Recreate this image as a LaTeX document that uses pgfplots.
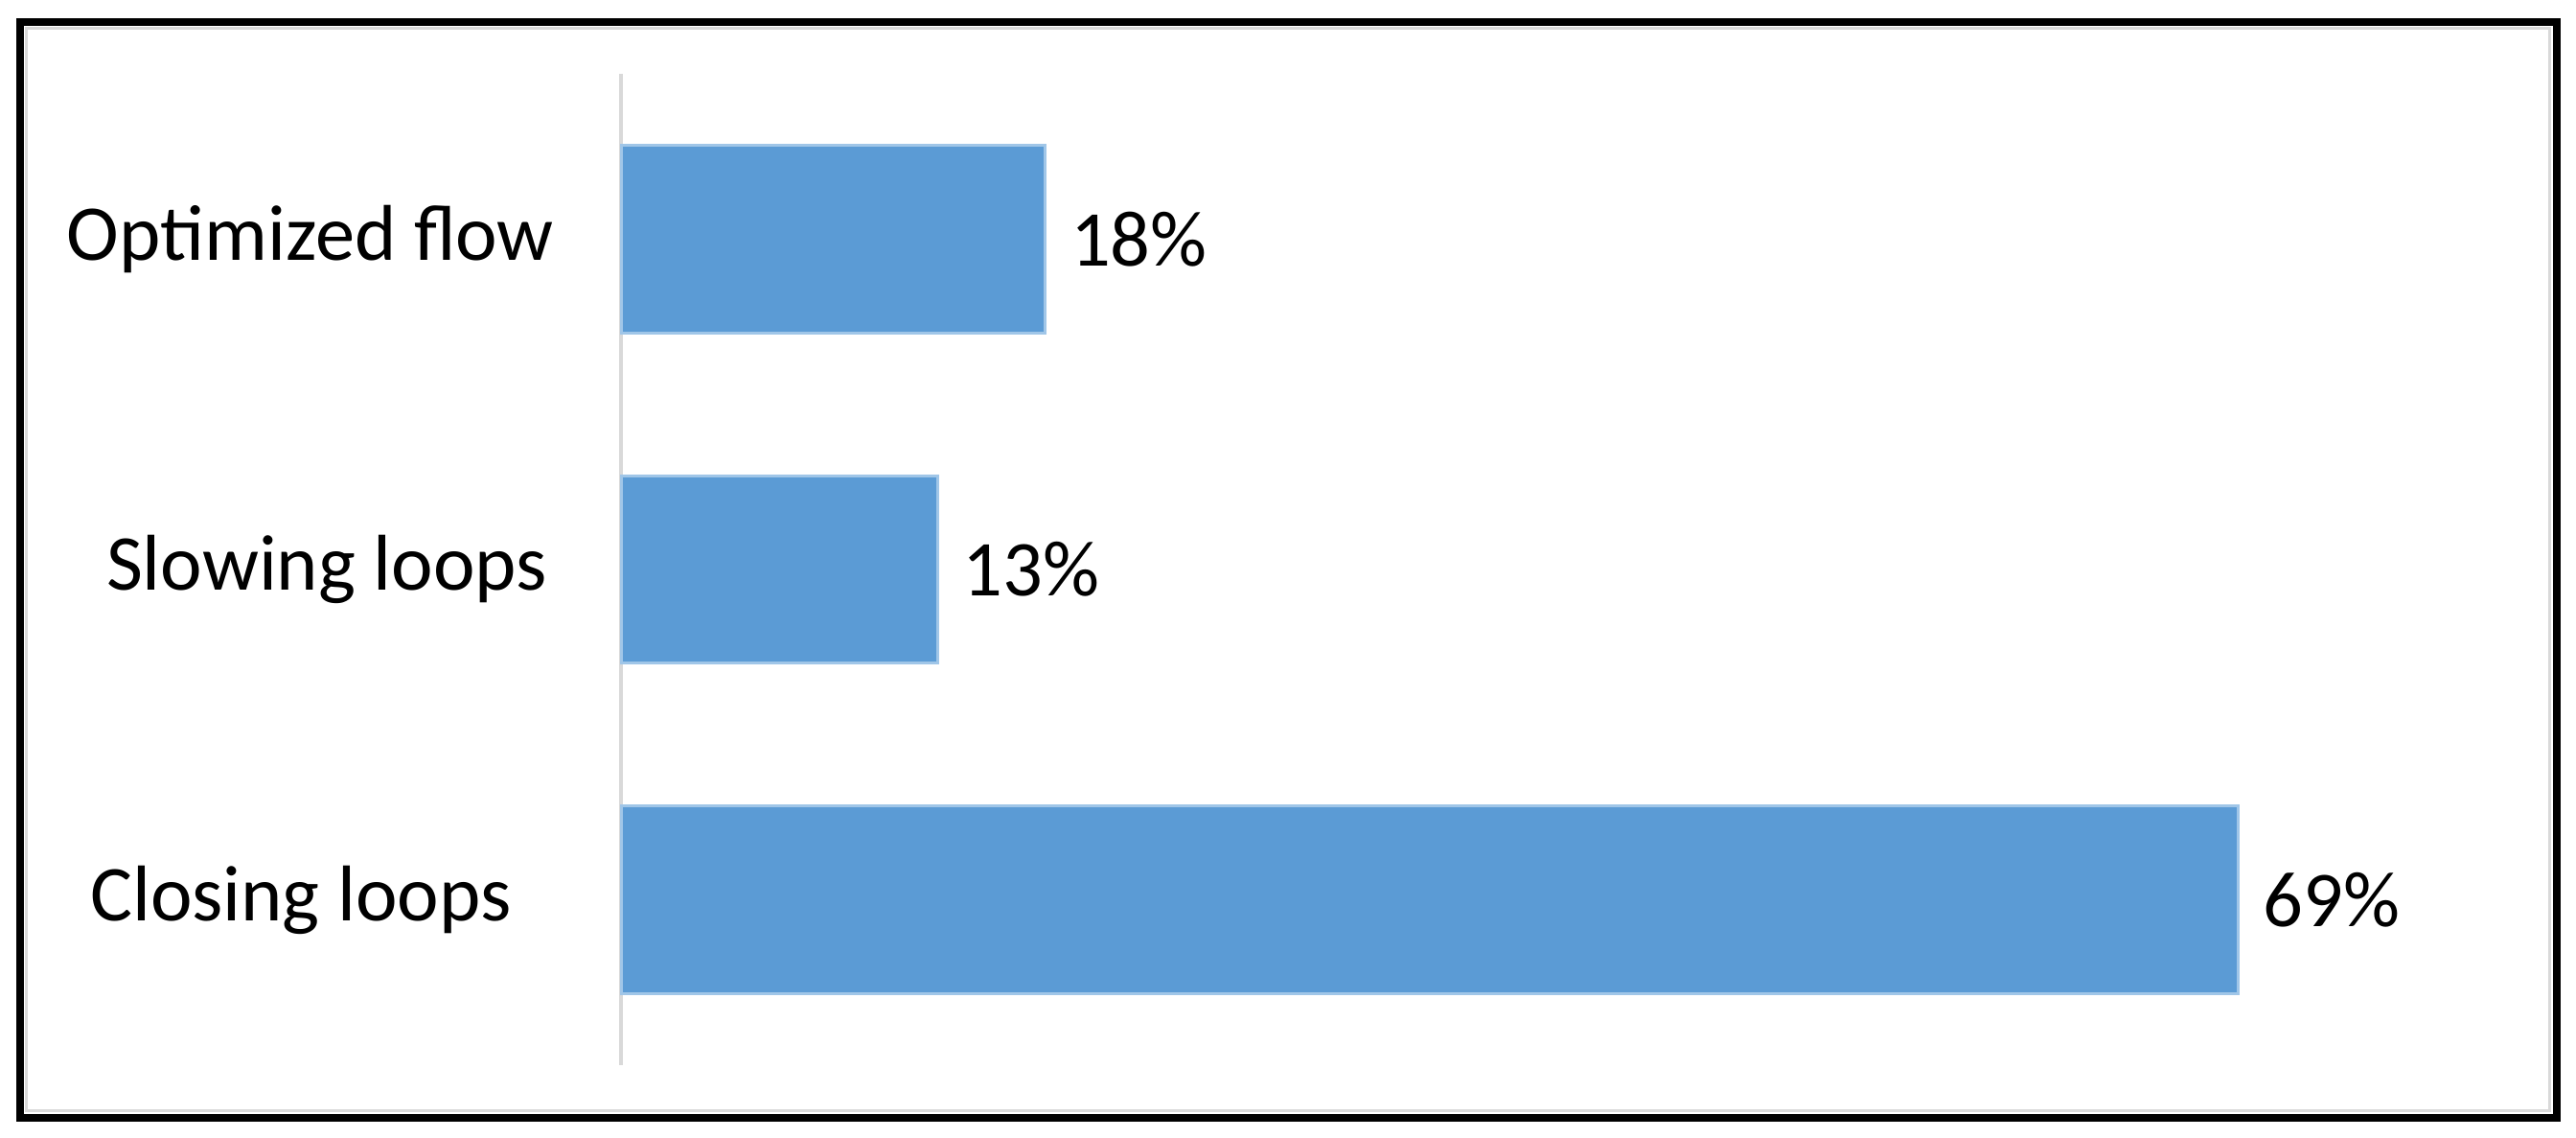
\documentclass[border=0pt]{standalone}
\usepackage{pgfplots}
\pgfplotsset{compat=1.18}
\usepackage{fontspec}
\setmainfont{Carlito}
\definecolor{barblue}{RGB}{91,155,213}
\definecolor{baredge}{RGB}{160,198,232}
\definecolor{axgray}{RGB}{217,217,217}
\begin{document}
\fontsize{16.5}{20}\selectfont
\begin{tikzpicture}
\path[use as bounding box] (0,0) rectangle (537.6pt,237.4pt);
\draw[line width=1.6pt] (4.1pt,4.2pt) rectangle (533.5pt,232.8pt);
\draw[axgray, line width=0.6pt] (5.5pt,5.6pt) rectangle (532.1pt,231.4pt);
\begin{axis}[
 at={(129.6pt,15.2pt)}, anchor=south west, scale only axis,
 width=391.2pt, height=206.8pt,
 xbar, bar width=0.567, xmin=0, xmax=80, ymin=-0.5, ymax=2.5,
 axis x line=none, axis y line=left,
 y axis line style={draw=axgray, line width=0.8pt, -},
 ytick={0,1,2}, yticklabels={{Closing loops\hspace*{4pt}}, {\hspace*{6.8pt}Slowing loops}, {Optimized flow}},
 major tick length=0pt,
 yticklabel style={anchor=center, xshift=-64.8pt, font=\fontsize{16.5}{20}\selectfont},
 nodes near coords, point meta=explicit symbolic,
 every node near coord/.append style={font=\fontsize{16.5}{20}\selectfont, black, anchor=west, inner sep=5pt},
 clip=false,
]
\addplot[fill=barblue, draw=baredge, line width=0.6pt] coordinates {(69,0) [69\%] (13.5,1) [13\%] (18.1,2) [18\%]};
\end{axis}
\end{tikzpicture}
\end{document}
